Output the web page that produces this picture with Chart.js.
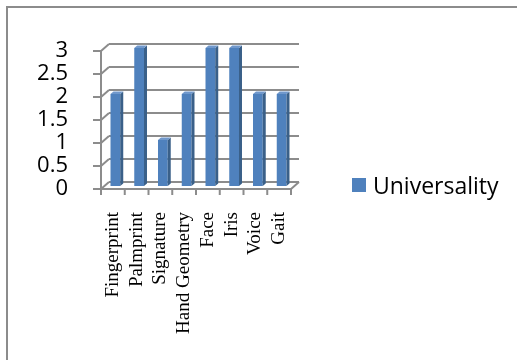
<!DOCTYPE html>
<html>
<head>
<meta charset="utf-8">
<title>Universality</title>
<script src="https://cdn.jsdelivr.net/npm/chart.js@4.4.1/dist/chart.umd.min.js"></script>
<style>
  html, body { margin: 0; padding: 0; background: #fff; }
  #wrap { position: relative; width: 517px; height: 360px; overflow: hidden; }
  #frame {
    position: absolute; left: 6px; top: 6px; width: 530px; height: 380px;
    border-left: 2px solid #8c8c8c; border-top: 2px solid #8c8c8c;
  }
  #universalityChart { position: absolute; left: 0; top: 0; }
  #legend {
    position: absolute; left: 352px; top: 170px; height: 30px;
    display: flex; align-items: center;
    font-family: "Open Sans", sans-serif; font-size: 23px; color: #000;
  }
  #legend .box { width: 14px; height: 14px; margin-right: 7px; }
</style>
</head>
<body>
<div id="wrap">
  <div id="frame"></div>
  <canvas id="universalityChart" width="517" height="360"></canvas>
  <div id="legend"></div>
</div>
<script>
const categories = ["Fingerprint", "Palmprint", "Signature", "Hand Geometry", "Face", "Iris", "Voice", "Gait"];
const universality = [2, 3, 1, 2, 3, 3, 2, 2];
const yTicks = [0, 0.5, 1, 1.5, 2, 2.5, 3];
const seriesName = "Universality";

const barFront = "#4f81bd";
const barSide = "#3a6089";
const barTop = "#7098cc";
const wallColor = "#8c8c8c";

// depth of the back wall, and of the bars inside it
const wallDX = 8, wallDY = 7;
const barDX = 2.5, barDY = 3;
const sideDX = 3, sideDY = 2.5;

const fakeDepth = {
  id: "fakeDepth",
  beforeDatasetsDraw(chart) {
    const { ctx, chartArea: a, scales: { x, y } } = chart;
    const y0 = y.getPixelForValue(0);
    const yTop = y.getPixelForValue(yTicks[yTicks.length - 1]);

    ctx.save();
    ctx.strokeStyle = wallColor;
    ctx.lineWidth = 2;
    ctx.beginPath();
    yTicks.forEach(v => {
      const py = y.getPixelForValue(v);
      // back wall line
      ctx.moveTo(a.left + wallDX, py - wallDY);
      ctx.lineTo(a.right + wallDX, py - wallDY);
      // side wall diagonal
      ctx.moveTo(a.left, py);
      ctx.lineTo(a.left + wallDX, py - wallDY);
      // tick mark
      ctx.moveTo(a.left - 8, py);
      ctx.lineTo(a.left, py);
    });
    // front value axis
    ctx.moveTo(a.left, yTop);
    ctx.lineTo(a.left, y0 + 5);
    // front edge of the floor
    ctx.moveTo(a.left - 6, y0);
    ctx.lineTo(a.right, y0);
    ctx.lineTo(a.right + wallDX, y0 - wallDY);
    // category ticks
    const step = (a.right - a.left) / categories.length;
    for (let i = 0; i <= categories.length; i++) {
      const px = x.getPixelForValue(0) - step / 2 + i * step;
      ctx.moveTo(px, y0);
      ctx.lineTo(px, y0 + 6);
    }
    ctx.stroke();
    ctx.restore();

    // bars stand a little behind the front plane
    ctx.save();
    ctx.translate(barDX, -barDY);
  },
  afterDatasetsDraw(chart) {
    const { ctx } = chart;
    chart.getDatasetMeta(0).data.forEach(bar => {
      const half = bar.width / 2;
      const r = bar.x + half, l = bar.x - half;

      ctx.fillStyle = barSide;
      ctx.beginPath();
      ctx.moveTo(r, bar.y);
      ctx.lineTo(r + sideDX, bar.y - sideDY);
      ctx.lineTo(r + sideDX, bar.base - sideDY);
      ctx.lineTo(r, bar.base);
      ctx.closePath();
      ctx.fill();

      ctx.fillStyle = barTop;
      ctx.beginPath();
      ctx.moveTo(l, bar.y);
      ctx.lineTo(l + sideDX, bar.y - sideDY);
      ctx.lineTo(r + sideDX, bar.y - sideDY);
      ctx.lineTo(r, bar.y);
      ctx.closePath();
      ctx.fill();
    });
    ctx.restore();
  }
};

const ctx = document.getElementById("universalityChart").getContext("2d");

const universalityChart = new Chart(ctx, {
  type: "bar",
  data: {
    labels: categories,
    datasets: [
      {
        label: seriesName,
        data: universality,
        backgroundColor: barFront,
        borderWidth: 0,
        categoryPercentage: 1,
        barPercentage: 0.41
      }
    ]
  },
  options: {
    responsive: false,
    animation: false,
    devicePixelRatio: 1,
    layout: {
      padding: { left: 0, top: 51, right: 226, bottom: 0 }
    },
    plugins: {
      legend: { display: false },
      tooltip: { enabled: false }
    },
    scales: {
      x: {
        grid: { display: false },
        border: { display: false },
        afterFit: scale => { scale.height = 171; },
        ticks: {
          autoSkip: false,
          minRotation: 90,
          maxRotation: 90,
          padding: 15,
          color: "#000",
          font: { family: "Liberation Serif", size: 19 }
        }
      },
      y: {
        min: yTicks[0],
        max: yTicks[yTicks.length - 1],
        grid: { display: false },
        border: { display: false },
        afterFit: scale => { scale.width = 101; },
        ticks: {
          stepSize: yTicks[1] - yTicks[0],
          autoSkip: false,
          padding: 25,
          color: "#000",
          font: { family: "Open Sans", size: 22 },
          callback: value => String(value)
        }
      }
    }
  },
  plugins: [fakeDepth]
});

// legend drawn as html next to the plot
const legendEl = document.getElementById("legend");
universalityChart.data.datasets.forEach(ds => {
  const box = document.createElement("span");
  box.className = "box";
  box.style.background = ds.backgroundColor;
  const text = document.createElement("span");
  text.textContent = ds.label;
  legendEl.appendChild(box);
  legendEl.appendChild(text);
});
</script>
</body>
</html>
